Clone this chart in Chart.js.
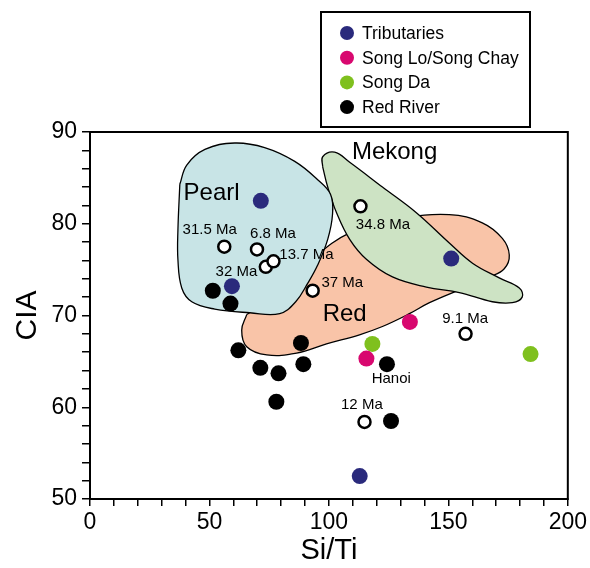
<!DOCTYPE html>
<html>
<head>
<meta charset="utf-8">
<script src="https://cdn.jsdelivr.net/npm/chart.js@4.4.1/dist/chart.umd.min.js"></script>
<style>
  html, body { margin: 0; padding: 0; background: #fff; }
  canvas { display: block; }
</style>
</head>
<body>
<canvas id="ciaChart" width="590" height="568"></canvas>
<script>
// 数据: Si/Ti vs CIA
const tributaries = [{x: 71.5, y: 82.5}, {x: 59.4, y: 73.2}, {x: 151.2, y: 76.2}, {x: 112.9, y: 52.5}];
const songLo = [{x: 133.9, y: 69.3}, {x: 115.7, y: 65.3}];
const songDa = [{x: 118.2, y: 66.9}, {x: 184.4, y: 65.8}];
const redRiver = [
  {x: 51.4, y: 72.7}, {x: 58.8, y: 71.3}, {x: 62.1, y: 66.2}, {x: 71.3, y: 64.3},
  {x: 78.9, y: 63.7}, {x: 78.0, y: 60.6}, {x: 88.3, y: 67.0}, {x: 89.3, y: 64.7},
  {x: 124.3, y: 64.7}, {x: 126.0, y: 58.5}
];
// 年代样品 (空心圆)
const ageSamples = [
  {x: 56.2, y: 77.5}, {x: 69.9, y: 77.2}, {x: 73.6, y: 75.3}, {x: 76.8, y: 75.9},
  {x: 93.2, y: 72.7}, {x: 113.2, y: 81.9}, {x: 157.2, y: 68.0}, {x: 114.9, y: 58.4}
];

// 区域轮廓
const pearlField = [
  {x: 37.6, y: 84.3}, {x: 36.8, y: 79.3}, {x: 36.8, y: 76.1}, {x: 38.4, y: 73.0},
  {x: 42.6, y: 71.5}, {x: 52.2, y: 70.7}, {x: 66.9, y: 70.3}, {x: 79.4, y: 70.2},
  {x: 86.1, y: 71.5}, {x: 91.1, y: 73.5}, {x: 95.3, y: 75.5}, {x: 99.5, y: 78.3},
  {x: 101.5, y: 81.0}, {x: 100.7, y: 83.2}, {x: 95.3, y: 84.8}, {x: 85.7, y: 86.8},
  {x: 73.1, y: 88.3}, {x: 60.6, y: 88.8}, {x: 48.1, y: 88.1}, {x: 40.5, y: 86.4},
  {x: 37.6, y: 84.3}
];
const mekongField = [
  {x: 97.4, y: 86.2}, {x: 97.4, y: 87.3}, {x: 102.4, y: 87.8}, {x: 108.7, y: 86.7},
  {x: 122.4, y: 84.0}, {x: 136.6, y: 81.2}, {x: 150.4, y: 77.9}, {x: 160.1, y: 75.7},
  {x: 171.3, y: 74.1}, {x: 179.7, y: 73.0}, {x: 180.9, y: 72.0}, {x: 176.8, y: 71.4},
  {x: 168.4, y: 71.5}, {x: 154.6, y: 72.5}, {x: 140.8, y: 73.1}, {x: 126.6, y: 74.2},
  {x: 115.8, y: 76.1}, {x: 108.7, y: 78.3}, {x: 103.2, y: 81.2}, {x: 99.5, y: 84.0},
  {x: 97.4, y: 86.2}
];
const redField = [
  {x: 65.6, y: 70.1}, {x: 71.9, y: 71.2}, {x: 81.5, y: 73.1}, {x: 92.0, y: 75.9},
  {x: 108.7, y: 79.0}, {x: 129.5, y: 80.5}, {x: 150.4, y: 81.0}, {x: 164.2, y: 80.1},
  {x: 172.6, y: 78.4}, {x: 175.5, y: 76.6}, {x: 173.4, y: 75.1}, {x: 167.2, y: 74.2},
  {x: 154.6, y: 72.8}, {x: 142.1, y: 71.4}, {x: 133.7, y: 70.2}, {x: 122.4, y: 68.8},
  {x: 112.8, y: 67.9}, {x: 99.0, y: 66.9}, {x: 86.5, y: 65.9}, {x: 74.0, y: 65.7},
  {x: 65.6, y: 66.6}, {x: 63.5, y: 68.4}, {x: 65.6, y: 70.1}
];

// 文字标注 (数据坐标为文字中心)
const ageNotes = [
  {text: '31.5 Ma', x: 50.1, y: 79.3}, {text: '6.8 Ma', x: 76.6, y: 78.9},
  {text: '13.7 Ma', x: 90.6, y: 76.6}, {text: '32 Ma', x: 61.3, y: 74.8},
  {text: '37 Ma', x: 105.6, y: 73.6}, {text: '34.8 Ma', x: 122.6, y: 79.9},
  {text: '9.1 Ma', x: 157.0, y: 69.6}, {text: '12 Ma', x: 113.8, y: 60.3},
  {text: 'Hanoi', x: 126.1, y: 63.1}
];
const fieldNames = [
  {text: 'Pearl', x: 50.9, y: 83.3}, {text: 'Mekong', x: 127.5, y: 87.8}, {text: 'Red', x: 106.6, y: 70.1}
];
const legendLabels = ['Tributaries', 'Song Lo/Song Chay', 'Song Da', 'Red River'];

const FONT = "'Liberation Sans', Arial, Helvetica, sans-serif";
Chart.defaults.font.family = FONT;
Chart.defaults.color = '#000';

function field(data, color, order) {
  return {
    type: 'line',
    data: data,
    backgroundColor: color,
    borderColor: '#000',
    borderWidth: 1.3,
    pointRadius: 0,
    tension: 0.4,
    fill: 'shape',
    order: order
  };
}

function dots(label, data, color) {
  return {
    label: label,
    data: data,
    backgroundColor: color,
    borderColor: color,
    borderWidth: 0,
    pointRadius: 8,
    order: 1
  };
}

// 外框 + 图例 + 文字
const decorPlugin = {
  id: 'decor',
  afterDatasetsDraw(chart) {
    const {ctx, chartArea: a, scales: {x, y}} = chart;
    ctx.save();
    ctx.strokeStyle = '#000';
    ctx.lineWidth = 2;
    ctx.strokeRect(a.left, a.top, a.right - a.left, a.bottom - a.top);

    ctx.fillStyle = '#000';
    ctx.textAlign = 'center';
    ctx.textBaseline = 'middle';
    ctx.font = `15px ${FONT}`;
    ageNotes.forEach(n => ctx.fillText(n.text, x.getPixelForValue(n.x), y.getPixelForValue(n.y)));
    ctx.font = `24px ${FONT}`;
    fieldNames.forEach(n => ctx.fillText(n.text, x.getPixelForValue(n.x), y.getPixelForValue(n.y)));

    // 图例
    ctx.lineWidth = 2;
    ctx.strokeRect(321, 12, 209, 115);
    ctx.textAlign = 'left';
    ctx.font = `17.5px ${FONT}`;
    legendLabels.forEach((label, i) => {
      const d = chart.data.datasets.find(ds => ds.label === label);
      const cy = 33 + i * 24.7;
      ctx.fillStyle = d.backgroundColor;
      ctx.beginPath();
      ctx.arc(347, cy, 7, 0, Math.PI * 2);
      ctx.fill();
      ctx.fillStyle = '#000';
      ctx.fillText(label, 362, cy + 1);
    });
    ctx.restore();
  }
};

new Chart(document.getElementById('ciaChart'), {
  type: 'scatter',
  data: {
    datasets: [
      field(redField, '#f9c4a8', 10),
      field(mekongField, '#cde3c4', 9),
      field(pearlField, '#c8e4e6', 8),
      dots('Red River', redRiver, '#000'),
      dots('Tributaries', tributaries, '#2a2a7c'),
      dots('Song Lo/Song Chay', songLo, '#d8086f'),
      dots('Song Da', songDa, '#7fc01e'),
      {
        label: 'ages',
        data: ageSamples,
        backgroundColor: '#fff',
        borderColor: '#000',
        borderWidth: 2.5,
        pointRadius: 6,
        order: 0
      }
    ]
  },
  options: {
    responsive: false,
    devicePixelRatio: 1,
    animation: false,
    layout: { padding: { top: 132, right: 21, bottom: 0, left: 0 } },
    plugins: { legend: { display: false }, tooltip: { enabled: false } },
    scales: {
      x: {
        type: 'linear',
        min: 0,
        max: 200,
        afterFit: s => { s.height = 69; },
        border: { display: true, color: '#000', width: 2 },
        grid: { display: true, drawOnChartArea: false, drawTicks: true, tickLength: 7, color: '#000', lineWidth: 1.5 },
        ticks: {
          stepSize: 10,
          autoSkip: false,
          maxRotation: 0,
          padding: 3,
          font: { size: 23 },
          callback: v => (v % 50 === 0 ? v : '')
        },
        title: { display: true, text: 'Si/Ti', font: { size: 29 }, padding: { top: 0, bottom: 0 } }
      },
      y: {
        type: 'linear',
        min: 50,
        max: 90,
        afterFit: s => { s.width = 90; },
        border: { display: true, color: '#000', width: 2 },
        grid: { display: true, drawOnChartArea: false, drawTicks: true, tickLength: 8, color: '#000', lineWidth: 1.5 },
        ticks: {
          stepSize: 2,
          autoSkip: false,
          padding: 5,
          font: { size: 23 },
          callback: v => (v % 10 === 0 ? v : '')
        },
        title: { display: true, text: 'CIA', font: { size: 30 }, padding: { top: 10, bottom: 0 } }
      }
    }
  },
  plugins: [decorPlugin]
});
</script>
</body>
</html>
